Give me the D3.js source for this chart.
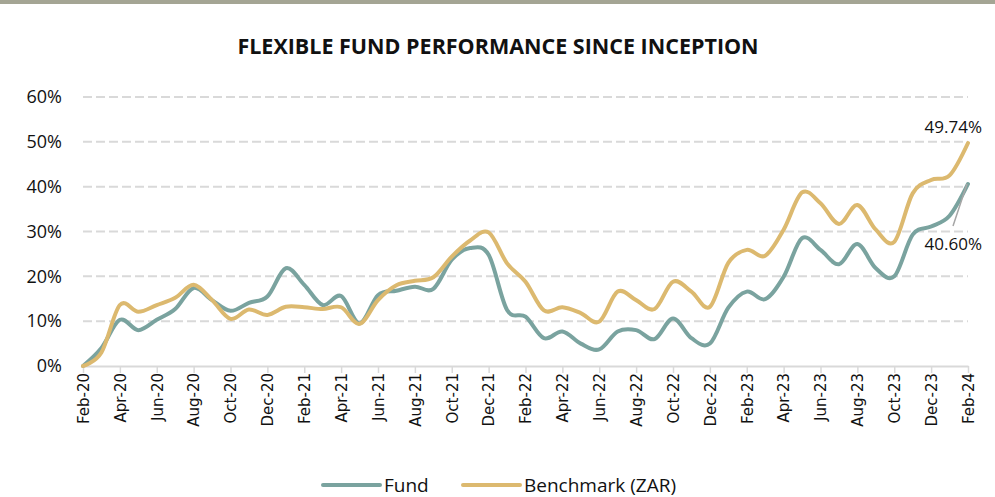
<!DOCTYPE html>
<html>
<head>
<meta charset="utf-8">
<script src="https://cdn.jsdelivr.net/npm/d3@7"></script>
<style>
  body { margin: 0; background: #fff; }
  svg { display: block; }
</style>
</head>
<body>
<div id="chart"></div>
<script>
// monthly labels, Feb-20 .. Feb-24
const months = ["Feb-20","Mar-20","Apr-20","May-20","Jun-20","Jul-20","Aug-20","Sep-20","Oct-20","Nov-20","Dec-20",
  "Jan-21","Feb-21","Mar-21","Apr-21","May-21","Jun-21","Jul-21","Aug-21","Sep-21","Oct-21","Nov-21","Dec-21",
  "Jan-22","Feb-22","Mar-22","Apr-22","May-22","Jun-22","Jul-22","Aug-22","Sep-22","Oct-22","Nov-22","Dec-22",
  "Jan-23","Feb-23","Mar-23","Apr-23","May-23","Jun-23","Jul-23","Aug-23","Sep-23","Oct-23","Nov-23","Dec-23",
  "Jan-24","Feb-24"];

const fund = [0, 4, 10.3, 8, 10.3, 12.7, 17.4, 14.7, 12.3, 14.1, 15.5,
  21.8, 18.1, 13.6, 15.6, 9.5, 15.8, 16.8, 17.7, 17.2, 23.7, 26.3, 24.8,
  12.5, 11, 6.2, 7.7, 5, 3.7, 7.7, 8, 6, 10.6, 6.2, 5,
  13, 16.6, 14.9, 19.9, 28.5, 25.9, 22.7, 27.2, 21.8, 20, 29.3, 31.1,
  33.5, 40.6];

const benchmark = [0, 3, 13.6, 12.1, 13.6, 15.2, 18.1, 14.7, 10.5, 12.6, 11.4,
  13.2, 13.1, 12.7, 13.1, 9.4, 14.7, 18, 19, 19.8, 24.4, 28, 29.8,
  22.9, 18.8, 12.4, 13.1, 11.8, 9.9, 16.6, 14.7, 12.7, 18.8, 16.6, 13.2,
  23, 25.9, 24.6, 30.4, 38.7, 36.3, 31.7, 35.9, 30.4, 27.7, 38.5, 41.5,
  42.5, 49.74];

const yTicks = [0, 10, 20, 30, 40, 50, 60];

const width = 995, height = 497;
const fundColor = "#7aa39f", benchColor = "#dcb96f", gridColor = "#d9d9d9";

const svg = d3.select("#chart")
  .append("svg")
  .attr("width", width)
  .attr("height", height);

// thin band across the top
svg.append("rect")
  .attr("x", 0).attr("y", 0)
  .attr("width", width).attr("height", 4)
  .attr("fill", "#a4a594");

svg.append("text")
  .attr("x", 498).attr("y", 54)
  .attr("text-anchor", "middle")
  .style("font-family", "'Open Sans', sans-serif")
  .style("font-weight", "bold")
  .style("font-size", "21.5px")
  .style("fill", "#111")
  .text("FLEXIBLE FUND PERFORMANCE SINCE INCEPTION");

const x = d3.scaleLinear().domain([0, months.length - 1]).range([83, 968]);
const y = d3.scaleLinear().domain([0, 60]).range([366, 97]);

// dashed gridlines
svg.append("g")
  .selectAll("line")
  .data(yTicks.filter(d => d > 0))
  .join("line")
  .attr("x1", x(0)).attr("x2", x(months.length - 1))
  .attr("y1", d => y(d)).attr("y2", d => y(d))
  .style("stroke", gridColor)
  .style("stroke-width", 2)
  .style("stroke-dasharray", "9,4");

// y axis labels
const yAxis = svg.append("g")
  .attr("transform", "translate(" + x(0) + ",0)")
  .call(d3.axisLeft(y).tickValues(yTicks).tickSize(0).tickPadding(21).tickFormat(d => d + "%"));
yAxis.select(".domain").remove();
yAxis.selectAll("text")
  .style("font-family", "'Open Sans', sans-serif")
  .style("font-size", "18px")
  .style("fill", "#111");

// x axis
const xAxis = svg.append("g")
  .attr("transform", "translate(0," + y(0) + ")")
  .call(d3.axisBottom(x)
    .tickValues(d3.range(0, months.length, 2))
    .tickSize(7)
    .tickSizeOuter(0)
    .tickFormat(i => months[i]));
xAxis.select(".domain").style("stroke", gridColor).style("stroke-width", 2);
xAxis.selectAll(".tick line").style("stroke", gridColor).style("stroke-width", 1.5);
xAxis.selectAll("text")
  .attr("transform", "rotate(-90)")
  .attr("x", -7).attr("y", 0).attr("dy", "0.35em")
  .style("text-anchor", "end")
  .style("font-family", "'DejaVu Sans', sans-serif")
  .style("font-size", "15px")
  .style("fill", "#111");

const line = d3.line()
  .x((d, i) => x(i))
  .y(d => y(d))
  .curve(d3.curveCardinal.tension(0));

svg.append("path")
  .datum(fund)
  .attr("d", line)
  .style("fill", "none")
  .style("stroke", fundColor)
  .style("stroke-width", 4)
  .style("stroke-linejoin", "round")
  .style("stroke-linecap", "round");

svg.append("path")
  .datum(benchmark)
  .attr("d", line)
  .style("fill", "none")
  .style("stroke", benchColor)
  .style("stroke-width", 4)
  .style("stroke-linejoin", "round")
  .style("stroke-linecap", "round");

// end labels
const last = months.length - 1;
svg.append("text")
  .attr("x", 982).attr("y", y(benchmark[last]) - 10)
  .attr("text-anchor", "end")
  .style("font-family", "'Open Sans', sans-serif")
  .style("font-size", "17px")
  .style("fill", "#111")
  .text(benchmark[last].toFixed(2) + "%");

svg.append("line")
  .attr("x1", x(last) - 1).attr("y1", y(fund[last]))
  .attr("x2", 953).attr("y2", 226)
  .style("stroke", "#a6a6a6")
  .style("stroke-width", 1.5);

svg.append("text")
  .attr("x", 982).attr("y", 250)
  .attr("text-anchor", "end")
  .style("font-family", "'Open Sans', sans-serif")
  .style("font-size", "17px")
  .style("fill", "#111")
  .text(fund[last].toFixed(2) + "%");

// legend
const legend = [{ name: "Fund", color: fundColor, x: 323 }, { name: "Benchmark (ZAR)", color: benchColor, x: 463 }];
const lg = svg.append("g").selectAll("g").data(legend).join("g")
  .attr("transform", d => "translate(" + d.x + ",485)");
lg.append("line")
  .attr("x1", 0).attr("x2", 57)
  .style("stroke", d => d.color)
  .style("stroke-width", 4)
  .style("stroke-linecap", "round");
lg.append("text")
  .attr("x", 61).attr("y", 7)
  .style("font-family", "'Open Sans', sans-serif")
  .style("font-size", "19px")
  .style("fill", "#111")
  .text(d => d.name);
</script>
</body>
</html>
